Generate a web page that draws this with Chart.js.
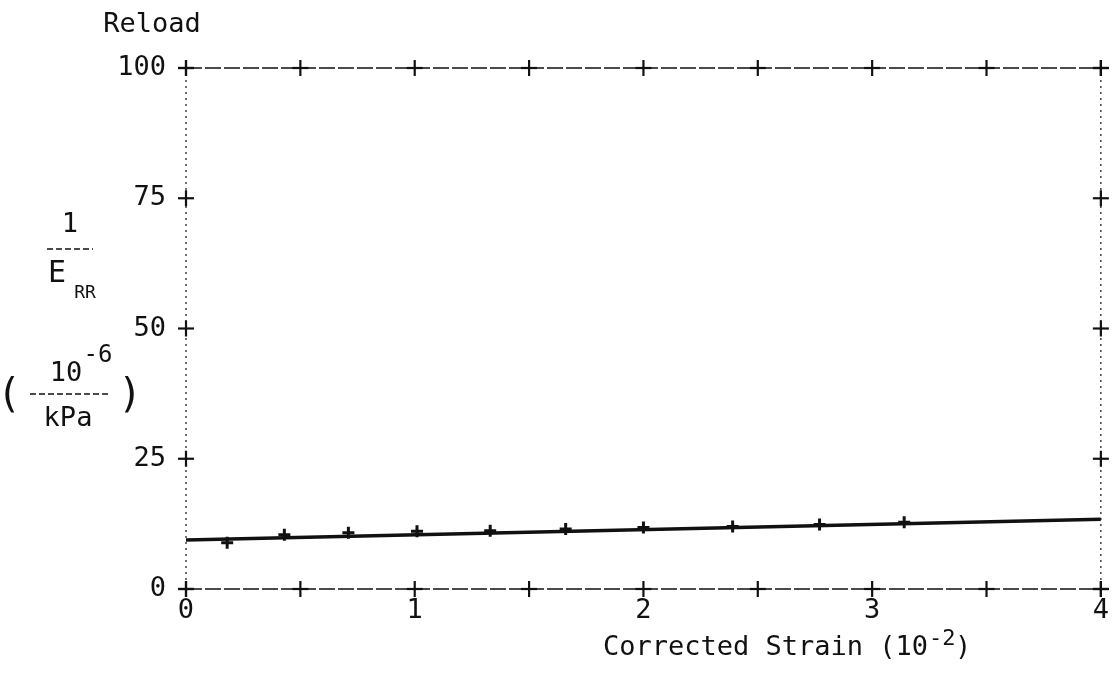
<!DOCTYPE html>
<html lang="en">
<head>
  <meta charset="UTF-8">
  <title>Reload</title>
  <script src="https://cdn.jsdelivr.net/npm/chart.js"></script>
  <style>
    html, body { margin: 0; padding: 0; background: #fff; }
    #wrap { width: 1115px; height: 685px; position: relative; }
  </style>
</head>
<body>
  <div id="wrap"><canvas id="grafico"></canvas></div>

  <script>
    // measured points (corrected strain, 10^-2) vs 1/E_RR (10^-6 / kPa)
    const strain = [0.18, 0.43, 0.71, 1.01, 1.33, 1.66, 2.0, 2.39, 2.77, 3.14];
    const invModulus = [8.9, 10.4, 10.8, 11.1, 11.2, 11.5, 11.8, 12.0, 12.4, 12.8];
    // fitted line
    const fitStrain = [0, 4];
    const fitModulus = [9.4, 13.4];

    const FONT = '"DejaVu Sans Mono", monospace';
    const INK = '#111';

    function linea(ctx, x1, y1, x2, y2) {
      ctx.beginPath();
      ctx.moveTo(x1, y1);
      ctx.lineTo(x2, y2);
      ctx.stroke();
    }

    function cruz(ctx, x, y) {
      linea(ctx, x - 8, y, x + 8, y);
      linea(ctx, x, y - 8, x, y + 8);
    }

    function texto(ctx, t, x, y, size, align) {
      ctx.font = size + 'px ' + FONT;
      ctx.textAlign = align || 'center';
      ctx.fillText(t, x, y);
    }

    // frame, plus-sign ticks and the plotter-style labels
    const marco = {
      id: 'marco',
      afterDraw(chart) {
        const { ctx, chartArea: a, scales: { x, y } } = chart;
        ctx.save();
        ctx.strokeStyle = INK;
        ctx.fillStyle = INK;

        ctx.lineWidth = 1.5;
        ctx.setLineDash([16, 3]);
        linea(ctx, a.left, a.top, a.right, a.top);
        linea(ctx, a.left, a.bottom, a.right, a.bottom);
        ctx.lineWidth = 1.2;
        ctx.setLineDash([2, 4]);
        linea(ctx, a.left, a.top, a.left, a.bottom);
        linea(ctx, a.right, a.top, a.right, a.bottom);

        ctx.setLineDash([]);
        ctx.lineWidth = 2.2;
        x.ticks.forEach(t => {
          const px = x.getPixelForValue(t.value);
          cruz(ctx, px, a.bottom);
          cruz(ctx, px, a.top);
        });
        y.ticks.forEach(t => {
          const py = y.getPixelForValue(t.value);
          cruz(ctx, a.left, py);
          cruz(ctx, a.right, py);
        });

        ctx.textBaseline = 'middle';
        texto(ctx, 'Reload', 152, 25, 27);

        // y title: 1 / E_RR  ( 10^-6 / kPa )
        texto(ctx, '1', 70, 225, 27);
        ctx.lineWidth = 1.5;
        ctx.setLineDash([6, 3]);
        linea(ctx, 47, 249, 93, 249);
        linea(ctx, 30, 394, 110, 394);
        ctx.setLineDash([]);
        texto(ctx, 'E', 57, 274, 30);
        texto(ctx, 'RR', 85, 293, 18);
        texto(ctx, '(', 9, 397, 40);
        texto(ctx, ')', 130, 397, 40);
        texto(ctx, '10', 66, 374, 27);
        texto(ctx, '-6', 98, 356, 24);
        texto(ctx, 'kPa', 68, 419, 27);

        // x title
        ctx.textBaseline = 'alphabetic';
        texto(ctx, 'Corrected Strain (10', 603, 655, 27, 'left');
        texto(ctx, '-2', 929, 645, 22, 'left');
        texto(ctx, ')', 955, 655, 27, 'left');
        ctx.restore();
      }
    };

    const ctx = document.getElementById('grafico').getContext('2d');
    new Chart(ctx, {
      type: 'scatter',
      data: {
        datasets: [
          {
            type: 'line',
            label: 'fit',
            data: fitStrain.map((v, i) => ({ x: v, y: fitModulus[i] })),
            borderColor: INK,
            borderWidth: 3.5,
            pointRadius: 0,
            fill: false
          },
          {
            label: 'points',
            data: strain.map((v, i) => ({ x: v, y: invModulus[i] })),
            pointStyle: 'cross',
            pointRadius: 6,
            borderColor: INK,
            backgroundColor: INK,
            borderWidth: 3
          }
        ]
      },
      options: {
        responsive: true,
        maintainAspectRatio: false,
        animation: false,
        devicePixelRatio: 1,
        layout: { padding: { top: 68, right: 9, left: 0, bottom: 0 } },
        plugins: { legend: { display: false }, tooltip: { enabled: false } },
        scales: {
          x: {
            type: 'linear',
            min: 0,
            max: 4,
            grid: { display: false, drawTicks: false },
            border: { display: false },
            afterFit: s => { s.height = 96; },
            ticks: {
              stepSize: 0.5,
              autoSkip: false,
              maxRotation: 0,
              padding: 6,
              color: INK,
              font: { family: FONT, size: 27 },
              callback: v => Number.isInteger(v) ? String(v) : ''
            }
          },
          y: {
            min: 0,
            max: 100,
            grid: { display: false, drawTicks: false },
            border: { display: false },
            afterFit: s => { s.width = 186; },
            ticks: {
              stepSize: 25,
              padding: 20,
              color: INK,
              font: { family: FONT, size: 27 }
            }
          }
        }
      },
      plugins: [marco]
    });
  </script>
</body>
</html>
